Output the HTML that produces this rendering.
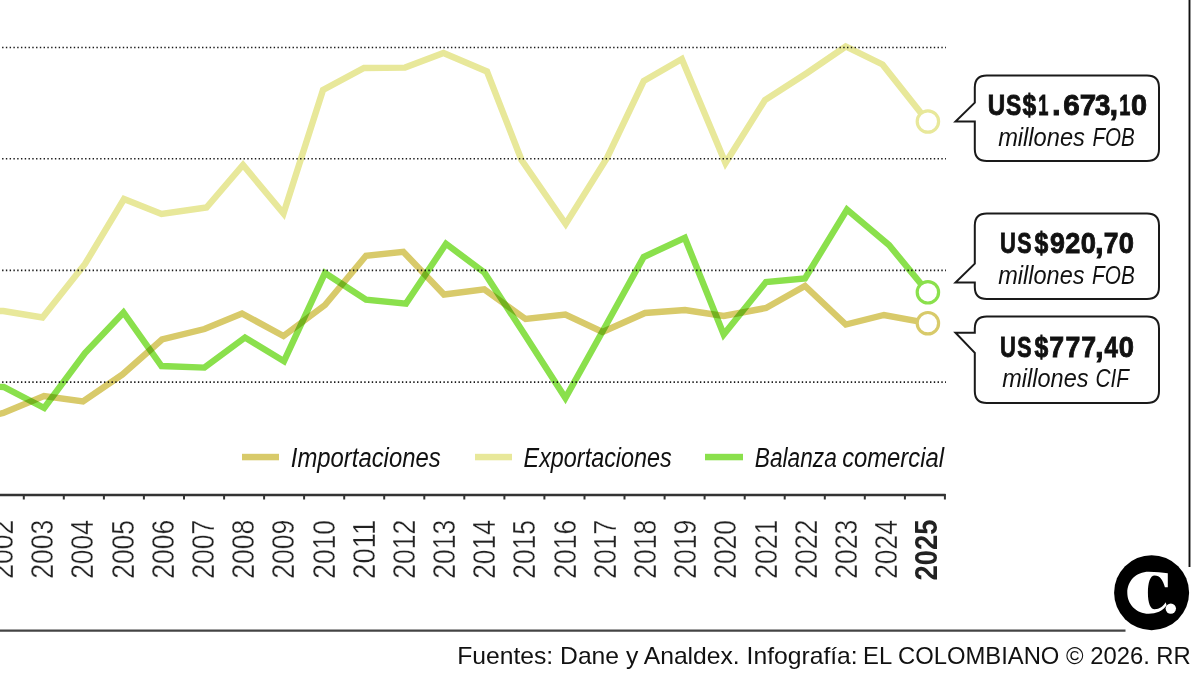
<!DOCTYPE html>
<html><head><meta charset="utf-8"><style>
html,body{margin:0;padding:0;background:#fff;}
svg{display:block;font-family:"Liberation Sans",sans-serif;}
</style></head><body>
<svg width="1200" height="678" viewBox="0 0 1200 678">
<rect width="1200" height="678" fill="#fff"/>
<line x1="2.1" y1="47.5" x2="946" y2="47.5" stroke="#1a1a1a" stroke-width="1.6" stroke-dasharray="1.4 2.372"/>
<line x1="2.1" y1="158.8" x2="946" y2="158.8" stroke="#1a1a1a" stroke-width="1.6" stroke-dasharray="1.4 2.372"/>
<line x1="2.1" y1="270.4" x2="946" y2="270.4" stroke="#1a1a1a" stroke-width="1.6" stroke-dasharray="1.4 2.372"/>
<line x1="2.1" y1="382.1" x2="946" y2="382.1" stroke="#1a1a1a" stroke-width="1.6" stroke-dasharray="1.4 2.372"/>

<g style="mix-blend-mode:multiply" fill="none" stroke-width="6.4" stroke-linejoin="miter" stroke-miterlimit="4">
<polyline points="-37,311 3.3,311.0 42.5,317.5 85.0,264.0 124.0,199.0 161.5,214.0 206.5,207.5 243.0,165.0 283.5,213.5 323.0,90.0 364.0,68.0 405.0,67.6 443.5,53.0 487.0,71.5 521.5,160.0 565.7,224.0 607.0,158.0 643.7,81.0 681.8,59.0 725.5,163.0 765.0,100.0 807.0,73.0 845.7,46.5 882.5,64.5 927.7,121.5" stroke="#e8e89a" style="mix-blend-mode:multiply"/>
<polyline points="-37,421 3.3,413.0 44.0,396.0 83.0,401.5 122.5,374.5 162.0,339.5 204.5,329.0 242.0,313.5 283.5,336.0 325.0,305.0 366.0,255.8 403.3,251.8 444.0,294.5 484.3,289.4 525.6,319.0 565.4,314.5 602.5,332.0 645.0,313.0 685.0,310.0 723.7,316.0 766.0,308.0 805.0,286.0 845.8,324.5 884.0,315.0 927.9,323.2" stroke="#d8ca6a" style="mix-blend-mode:multiply"/>
<polyline points="-37,386 3.7,387.0 44.2,408.0 85.0,353.0 123.5,312.5 161.5,366.0 204.4,367.6 245.0,337.5 284.0,361.2 325.0,273.0 366.0,299.6 406.0,303.6 446.0,243.8 484.3,272.5 525.6,336.0 565.4,398.0 605.0,327.0 643.7,257.0 684.8,237.8 723.7,334.5 766.0,282.0 805.0,278.5 847.0,209.5 889.0,245.0 927.9,292.3" stroke="#8ae04c" style="mix-blend-mode:multiply"/>
</g>
<circle cx="927.9" cy="121.5" r="10.7" fill="#fff" stroke="#e8e89a" stroke-width="3.2"/>
<circle cx="927.9" cy="292.3" r="10.7" fill="#fff" stroke="#8ae04c" stroke-width="3.2"/>
<circle cx="927.9" cy="323.2" r="10.7" fill="#fff" stroke="#d8ca6a" stroke-width="3.2"/>
<!-- legend -->
<rect x="242" y="453.8" width="37" height="6.5" fill="#d8ca6a"/>
<rect x="475" y="453.8" width="37" height="6.5" fill="#e8e89a"/>
<rect x="705" y="453.8" width="38" height="6.5" fill="#8ae04c"/>
<text x="290.75" y="466.5" font-size="27" font-style="italic" textLength="149.95" lengthAdjust="spacingAndGlyphs" fill="#111" >Importaciones</text>
<text x="523.55" y="466.5" font-size="27" font-style="italic" textLength="148.22" lengthAdjust="spacingAndGlyphs" fill="#111" >Exportaciones</text>
<text x="754.82" y="466.5" font-size="27" font-style="italic" textLength="81.95" lengthAdjust="spacingAndGlyphs" fill="#111" >Balanza</text>
<text x="842.17" y="466.5" font-size="27" font-style="italic" textLength="101.83" lengthAdjust="spacingAndGlyphs" fill="#111" >comercial</text>
<!-- axis -->
<line x1="0" y1="495" x2="945.5" y2="495" stroke="#333" stroke-width="2.5"/>
<line x1="23.8" y1="494" x2="23.8" y2="499.5" stroke="#333" stroke-width="2"/>
<line x1="63.8" y1="494" x2="63.8" y2="499.5" stroke="#333" stroke-width="2"/>
<line x1="103.9" y1="494" x2="103.9" y2="499.5" stroke="#333" stroke-width="2"/>
<line x1="143.9" y1="494" x2="143.9" y2="499.5" stroke="#333" stroke-width="2"/>
<line x1="184.0" y1="494" x2="184.0" y2="499.5" stroke="#333" stroke-width="2"/>
<line x1="224.1" y1="494" x2="224.1" y2="499.5" stroke="#333" stroke-width="2"/>
<line x1="264.1" y1="494" x2="264.1" y2="499.5" stroke="#333" stroke-width="2"/>
<line x1="304.1" y1="494" x2="304.1" y2="499.5" stroke="#333" stroke-width="2"/>
<line x1="344.2" y1="494" x2="344.2" y2="499.5" stroke="#333" stroke-width="2"/>
<line x1="384.2" y1="494" x2="384.2" y2="499.5" stroke="#333" stroke-width="2"/>
<line x1="424.3" y1="494" x2="424.3" y2="499.5" stroke="#333" stroke-width="2"/>
<line x1="464.3" y1="494" x2="464.3" y2="499.5" stroke="#333" stroke-width="2"/>
<line x1="504.4" y1="494" x2="504.4" y2="499.5" stroke="#333" stroke-width="2"/>
<line x1="544.4" y1="494" x2="544.4" y2="499.5" stroke="#333" stroke-width="2"/>
<line x1="584.5" y1="494" x2="584.5" y2="499.5" stroke="#333" stroke-width="2"/>
<line x1="624.5" y1="494" x2="624.5" y2="499.5" stroke="#333" stroke-width="2"/>
<line x1="664.6" y1="494" x2="664.6" y2="499.5" stroke="#333" stroke-width="2"/>
<line x1="704.6" y1="494" x2="704.6" y2="499.5" stroke="#333" stroke-width="2"/>
<line x1="744.7" y1="494" x2="744.7" y2="499.5" stroke="#333" stroke-width="2"/>
<line x1="784.7" y1="494" x2="784.7" y2="499.5" stroke="#333" stroke-width="2"/>
<line x1="824.8" y1="494" x2="824.8" y2="499.5" stroke="#333" stroke-width="2"/>
<line x1="864.8" y1="494" x2="864.8" y2="499.5" stroke="#333" stroke-width="2"/>
<line x1="904.9" y1="494" x2="904.9" y2="499.5" stroke="#333" stroke-width="2"/>
<line x1="944.9" y1="494" x2="944.9" y2="499.5" stroke="#333" stroke-width="2"/>

<text transform="translate(13.12,578.83) rotate(-90)" font-size="32"  textLength="59.15" lengthAdjust="spacingAndGlyphs" fill="#222" stroke="#fff" stroke-width="0.35">2002</text>
<text transform="translate(53.30,578.83) rotate(-90)" font-size="32"  textLength="59.01" lengthAdjust="spacingAndGlyphs" fill="#222" stroke="#fff" stroke-width="0.35">2003</text>
<text transform="translate(93.48,578.82) rotate(-90)" font-size="32"  textLength="58.60" lengthAdjust="spacingAndGlyphs" fill="#222" stroke="#fff" stroke-width="0.35">2004</text>
<text transform="translate(133.66,578.82) rotate(-90)" font-size="32"  textLength="58.87" lengthAdjust="spacingAndGlyphs" fill="#222" stroke="#fff" stroke-width="0.35">2005</text>
<text transform="translate(173.84,578.83) rotate(-90)" font-size="32"  textLength="59.01" lengthAdjust="spacingAndGlyphs" fill="#222" stroke="#fff" stroke-width="0.35">2006</text>
<text transform="translate(214.02,578.83) rotate(-90)" font-size="32"  textLength="59.15" lengthAdjust="spacingAndGlyphs" fill="#222" stroke="#fff" stroke-width="0.35">2007</text>
<text transform="translate(254.20,578.83) rotate(-90)" font-size="32"  textLength="59.01" lengthAdjust="spacingAndGlyphs" fill="#222" stroke="#fff" stroke-width="0.35">2008</text>
<text transform="translate(294.38,578.83) rotate(-90)" font-size="32"  textLength="59.15" lengthAdjust="spacingAndGlyphs" fill="#222" stroke="#fff" stroke-width="0.35">2009</text>
<text transform="translate(334.56,578.82) rotate(-90)" font-size="32"  textLength="58.87" lengthAdjust="spacingAndGlyphs" fill="#222" stroke="#fff" stroke-width="0.35">2010</text>
<text transform="translate(374.74,578.88) rotate(-90)" font-size="32"  textLength="59.27" lengthAdjust="spacingAndGlyphs" fill="#222" stroke="#fff" stroke-width="0.35">2011</text>
<text transform="translate(414.92,578.83) rotate(-90)" font-size="32"  textLength="59.15" lengthAdjust="spacingAndGlyphs" fill="#222" stroke="#fff" stroke-width="0.35">2012</text>
<text transform="translate(455.10,578.83) rotate(-90)" font-size="32"  textLength="59.01" lengthAdjust="spacingAndGlyphs" fill="#222" stroke="#fff" stroke-width="0.35">2013</text>
<text transform="translate(495.28,578.82) rotate(-90)" font-size="32"  textLength="58.60" lengthAdjust="spacingAndGlyphs" fill="#222" stroke="#fff" stroke-width="0.35">2014</text>
<text transform="translate(535.46,578.82) rotate(-90)" font-size="32"  textLength="58.87" lengthAdjust="spacingAndGlyphs" fill="#222" stroke="#fff" stroke-width="0.35">2015</text>
<text transform="translate(575.64,578.83) rotate(-90)" font-size="32"  textLength="59.01" lengthAdjust="spacingAndGlyphs" fill="#222" stroke="#fff" stroke-width="0.35">2016</text>
<text transform="translate(615.82,578.83) rotate(-90)" font-size="32"  textLength="59.15" lengthAdjust="spacingAndGlyphs" fill="#222" stroke="#fff" stroke-width="0.35">2017</text>
<text transform="translate(656.00,578.83) rotate(-90)" font-size="32"  textLength="59.01" lengthAdjust="spacingAndGlyphs" fill="#222" stroke="#fff" stroke-width="0.35">2018</text>
<text transform="translate(696.18,578.83) rotate(-90)" font-size="32"  textLength="59.15" lengthAdjust="spacingAndGlyphs" fill="#222" stroke="#fff" stroke-width="0.35">2019</text>
<text transform="translate(736.36,578.82) rotate(-90)" font-size="32"  textLength="58.87" lengthAdjust="spacingAndGlyphs" fill="#222" stroke="#fff" stroke-width="0.35">2020</text>
<text transform="translate(776.54,578.83) rotate(-90)" font-size="32"  textLength="59.15" lengthAdjust="spacingAndGlyphs" fill="#222" stroke="#fff" stroke-width="0.35">2021</text>
<text transform="translate(816.72,578.83) rotate(-90)" font-size="32"  textLength="59.15" lengthAdjust="spacingAndGlyphs" fill="#222" stroke="#fff" stroke-width="0.35">2022</text>
<text transform="translate(856.90,578.83) rotate(-90)" font-size="32"  textLength="59.01" lengthAdjust="spacingAndGlyphs" fill="#222" stroke="#fff" stroke-width="0.35">2023</text>
<text transform="translate(897.08,578.82) rotate(-90)" font-size="32"  textLength="58.60" lengthAdjust="spacingAndGlyphs" fill="#222" stroke="#fff" stroke-width="0.35">2024</text>
<text transform="translate(937.40,580.56) rotate(-90)" font-size="32" font-weight="bold" textLength="60.97" lengthAdjust="spacingAndGlyphs" fill="#222" >2025</text>

<path d="M986.8,75.5 H1147 Q1159,75.5 1159,87.5 V149 Q1159,161 1147,161 H986.8 Q974.8,161 974.8,149 V121.6 H955.5 L974.8,102.6 V87.5 Q974.8,75.5 986.8,75.5 Z" fill="#fff" stroke="#1a1a1a" stroke-width="2"/>
<text x="987.70" y="114.5" font-size="30.3" font-weight="bold" textLength="17.45" lengthAdjust="spacingAndGlyphs" fill="#111" stroke="#111" stroke-width="0.9">U</text>
<text x="1005.97" y="114.5" font-size="30.3" font-weight="bold" textLength="15.23" lengthAdjust="spacingAndGlyphs" fill="#111" stroke="#111" stroke-width="0.9">S</text>
<text x="1022.38" y="114.5" font-size="30.3" font-weight="bold" textLength="13.67" lengthAdjust="spacingAndGlyphs" fill="#111" stroke="#111" stroke-width="0.9">$</text>
<text x="1038.36" y="114.5" font-size="30.3" font-weight="bold" textLength="10.17" lengthAdjust="spacingAndGlyphs" fill="#111" stroke="#111" stroke-width="0.9">1</text>
<text x="1052.04" y="114.5" font-size="31" font-weight="bold" stroke="#111" stroke-width="0.9" fill="#111">.</text>
<text x="1063.31" y="114.5" font-size="30.3" font-weight="bold" textLength="16.51" lengthAdjust="spacingAndGlyphs" fill="#111" stroke="#111" stroke-width="0.9">6</text>
<text x="1079.72" y="114.5" font-size="30.3" font-weight="bold" textLength="16.39" lengthAdjust="spacingAndGlyphs" fill="#111" stroke="#111" stroke-width="0.9">7</text>
<text x="1094.96" y="114.5" font-size="30.3" font-weight="bold" textLength="15.39" lengthAdjust="spacingAndGlyphs" fill="#111" stroke="#111" stroke-width="0.9">3</text>
<text x="1109.61" y="114.5" font-size="31" font-weight="bold" stroke="#111" stroke-width="0.9" fill="#111">,</text>
<text x="1119.15" y="114.5" font-size="30.3" font-weight="bold" textLength="11.12" lengthAdjust="spacingAndGlyphs" fill="#111" stroke="#111" stroke-width="0.9">1</text>
<text x="1131.00" y="114.5" font-size="30.3" font-weight="bold" textLength="16.04" lengthAdjust="spacingAndGlyphs" fill="#111" stroke="#111" stroke-width="0.9">0</text>
<text x="998.13" y="146.0" font-size="26.5" font-style="italic" textLength="86.82" lengthAdjust="spacingAndGlyphs" fill="#111" >millones</text>
<text x="1092.38" y="146.0" font-size="26.5" font-style="italic" textLength="42.35" lengthAdjust="spacingAndGlyphs" fill="#111" >FOB</text>
<path d="M986.8,213.5 H1147 Q1159,213.5 1159,225.5 V287 Q1159,299 1147,299 H986.8 Q974.8,299 974.8,287 V282.6 H955.5 L974.8,263.6 V225.5 Q974.8,213.5 986.8,213.5 Z" fill="#fff" stroke="#1a1a1a" stroke-width="2"/>
<text x="999.93" y="253.10000000000002" font-size="30.3" font-weight="bold" textLength="15.89" lengthAdjust="spacingAndGlyphs" fill="#111" stroke="#111" stroke-width="0.9">U</text>
<text x="1017.21" y="253.10000000000002" font-size="30.3" font-weight="bold" textLength="14.34" lengthAdjust="spacingAndGlyphs" fill="#111" stroke="#111" stroke-width="0.9">S</text>
<text x="1034.38" y="253.10000000000002" font-size="30.3" font-weight="bold" textLength="13.77" lengthAdjust="spacingAndGlyphs" fill="#111" stroke="#111" stroke-width="0.9">$</text>
<text x="1050.11" y="253.10000000000002" font-size="30.3" font-weight="bold" textLength="14.91" lengthAdjust="spacingAndGlyphs" fill="#111" stroke="#111" stroke-width="0.9">9</text>
<text x="1065.20" y="253.10000000000002" font-size="30.3" font-weight="bold" textLength="15.06" lengthAdjust="spacingAndGlyphs" fill="#111" stroke="#111" stroke-width="0.9">2</text>
<text x="1080.76" y="253.10000000000002" font-size="30.3" font-weight="bold" textLength="15.22" lengthAdjust="spacingAndGlyphs" fill="#111" stroke="#111" stroke-width="0.9">0</text>
<text x="1094.91" y="253.10000000000002" font-size="31" font-weight="bold" stroke="#111" stroke-width="0.9" fill="#111">,</text>
<text x="1103.66" y="253.10000000000002" font-size="30.3" font-weight="bold" textLength="14.71" lengthAdjust="spacingAndGlyphs" fill="#111" stroke="#111" stroke-width="0.9">7</text>
<text x="1118.86" y="253.10000000000002" font-size="30.3" font-weight="bold" textLength="15.22" lengthAdjust="spacingAndGlyphs" fill="#111" stroke="#111" stroke-width="0.9">0</text>
<text x="998.23" y="284.4" font-size="26.5" font-style="italic" textLength="86.31" lengthAdjust="spacingAndGlyphs" fill="#111" >millones</text>
<text x="1092.08" y="284.4" font-size="26.5" font-style="italic" textLength="42.66" lengthAdjust="spacingAndGlyphs" fill="#111" >FOB</text>
<path d="M986.8,316.5 H1147 Q1159,316.5 1159,328.5 V391 Q1159,403 1147,403 H986.8 Q974.8,403 974.8,391 V352.8 L955.5,332.8 H974.8 V328.5 Q974.8,316.5 986.8,316.5 Z" fill="#fff" stroke="#1a1a1a" stroke-width="2"/>
<text x="999.93" y="356.8" font-size="30.3" font-weight="bold" textLength="15.89" lengthAdjust="spacingAndGlyphs" fill="#111" stroke="#111" stroke-width="0.9">U</text>
<text x="1017.21" y="356.8" font-size="30.3" font-weight="bold" textLength="14.34" lengthAdjust="spacingAndGlyphs" fill="#111" stroke="#111" stroke-width="0.9">S</text>
<text x="1034.38" y="356.8" font-size="30.3" font-weight="bold" textLength="13.77" lengthAdjust="spacingAndGlyphs" fill="#111" stroke="#111" stroke-width="0.9">$</text>
<text x="1049.25" y="356.8" font-size="30.3" font-weight="bold" textLength="14.83" lengthAdjust="spacingAndGlyphs" fill="#111" stroke="#111" stroke-width="0.9">7</text>
<text x="1065.55" y="356.8" font-size="30.3" font-weight="bold" textLength="14.83" lengthAdjust="spacingAndGlyphs" fill="#111" stroke="#111" stroke-width="0.9">7</text>
<text x="1081.25" y="356.8" font-size="30.3" font-weight="bold" textLength="14.83" lengthAdjust="spacingAndGlyphs" fill="#111" stroke="#111" stroke-width="0.9">7</text>
<text x="1094.91" y="356.8" font-size="31" font-weight="bold" stroke="#111" stroke-width="0.9" fill="#111">,</text>
<text x="1104.49" y="356.8" font-size="30.3" font-weight="bold" textLength="13.41" lengthAdjust="spacingAndGlyphs" fill="#111" stroke="#111" stroke-width="0.9">4</text>
<text x="1118.86" y="356.8" font-size="30.3" font-weight="bold" textLength="15.22" lengthAdjust="spacingAndGlyphs" fill="#111" stroke="#111" stroke-width="0.9">0</text>
<text x="1002.23" y="387.4" font-size="26.5" font-style="italic" textLength="86.31" lengthAdjust="spacingAndGlyphs" fill="#111" >millones</text>
<text x="1095.56" y="387.4" font-size="26.5" font-style="italic" textLength="33.53" lengthAdjust="spacingAndGlyphs" fill="#111" >CIF</text>

<line x1="1189.5" y1="0" x2="1189.5" y2="567" stroke="#111" stroke-width="1.9"/>
<line x1="0" y1="630.6" x2="1125.5" y2="630.6" stroke="#444" stroke-width="2.2"/>
<circle cx="1151.6" cy="592.7" r="37.5" fill="#000"/>
<path d="M1167.8,573.2 V587.2 H1164.9 C1163,580 1160,575.4 1154.6,575.4 C1150,575.4 1147.9,583 1147.9,592.7 C1147.9,603 1150.5,609.3 1154.6,609.3 C1159.5,609.3 1163.3,606.3 1165.6,602.3 L1166.6,605.2 C1163,611 1156,613.7 1148.7,613.7 C1136,613.7 1127.3,604 1127.3,592.7 C1127.3,581 1136,571.7 1148.7,571.7 C1156,571.7 1162,572.5 1167.8,573.2 Z" fill="#fff"/>
<circle cx="1170.8" cy="608.6" r="5.2" fill="#fff"/>
<text x="457.23" y="663.8" font-size="24"  textLength="400.45" lengthAdjust="spacingAndGlyphs" fill="#111" >Fuentes: Dane y Analdex. Infografía:</text>
<text x="863.09" y="663.8" font-size="24"  textLength="327.69" lengthAdjust="spacingAndGlyphs" fill="#111" >EL COLOMBIANO © 2026. RR</text>

</svg>
</body></html>
